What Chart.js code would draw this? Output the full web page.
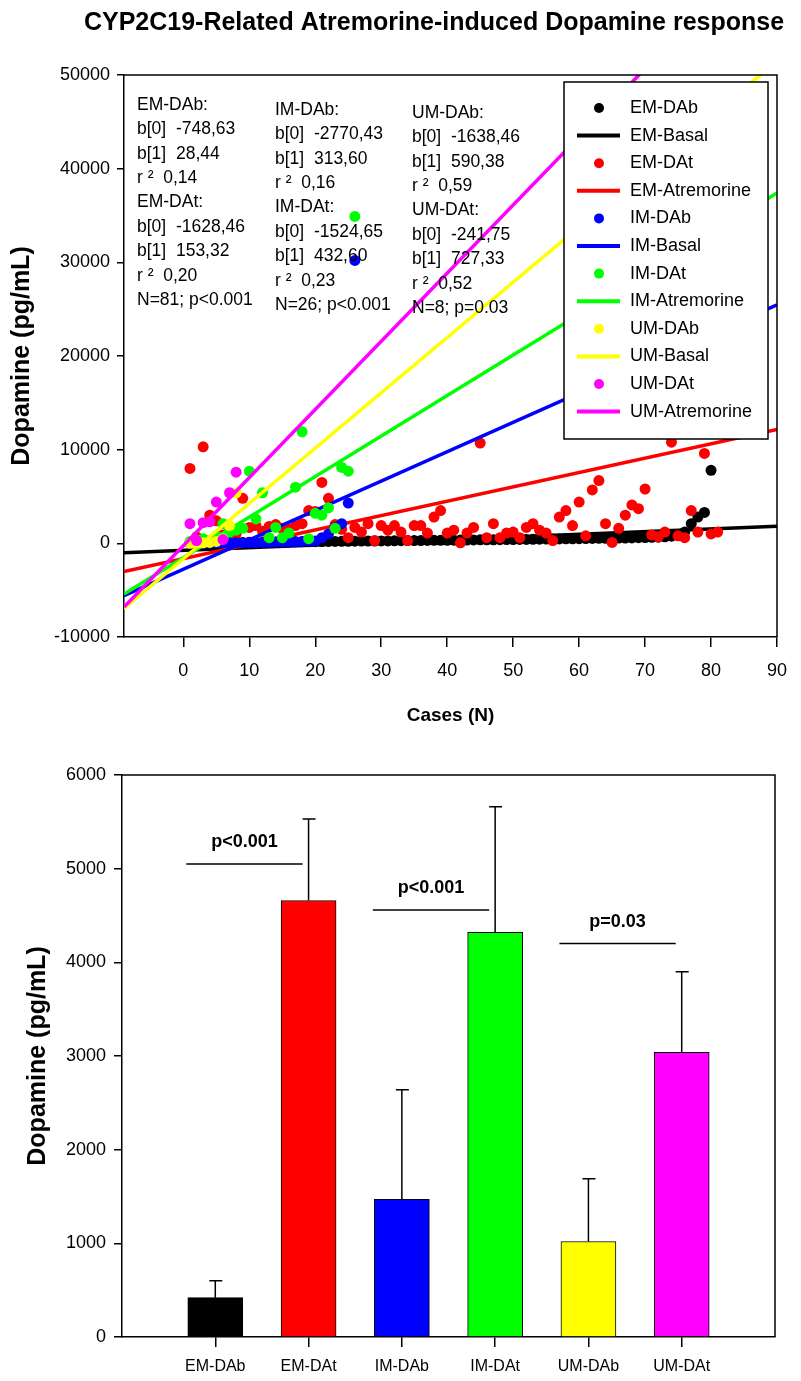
<!DOCTYPE html>
<html>
<head>
<meta charset="utf-8">
<title>CYP2C19-Related Atremorine-induced Dopamine response</title>
<script src="https://cdn.jsdelivr.net/npm/chart.js@4.4.1/dist/chart.umd.min.js"></script>
<style>
  body { margin: 0; background: #fff; }
  #wrap { position: relative; width: 801px; height: 1381px; }
  canvas { position: absolute; left: 0; }
</style>
</head>
<body>
<div id="wrap">
  <canvas id="scatter-chart" width="801" height="745" style="top:0"></canvas>
  <canvas id="bar-chart" width="801" height="636" style="top:745px"></canvas>
</div>
<script>
const FONT = "'Liberation Sans', Arial, sans-serif";

// case N is the position in the array (1, 2, 3 ...)
const emDAb = [
  20, 30, 40, 40, 60, 70, 80, 90, 100, 110,
  110, 120, 130, 130, 140, 150, 160, 170, 170, 180,
  190, 200, 200, 210, 220, 230, 240, 240, 250, 260,
  260, 270, 280, 290, 290, 300, 310, 320, 320, 330,
  340, 350, 350, 360, 370, 380, 380, 390, 400, 410,
  420, 420, 430, 440, 450, 460, 470, 480, 490, 500,
  510, 520, 530, 540, 550, 560, 570, 580, 600, 620,
  640, 660, 700, 760, 900, 1200, 2100, 2800, 3300, 7800,
  12500
];
const emDAt = [
  8000, 700, 10300, 3000, 2400, 900, 1300, 1000, 4800, 1700,
  1900, 1300, 1800, 2000, 1600, 1500, 1900, 2100, 3500, 3400,
  6500, 4800, 2000, 1500, 600, 1700, 1200, 2100, 300, 1900,
  1400, 1900, 1200, 300, 1900, 1900, 1100, 2800, 3500, 1100,
  1400, 50, 1100, 1700, 10700, 600, 2100, 600, 1100, 1200,
  600, 1700, 2100, 1400, 1100, 300, 2800, 3500, 1900, 4400,
  800, 5700, 6700, 2100, 100, 1600, 3000, 4100, 3700, 5800,
  900, 700, 1200, 10800, 800, 600, 3500, 1200, 9600, 1000,
  1200
];
const imDAb = [
  0, 0, 10, 20, 30, 40, 50, 60, 70, 80,
  90, 100, 110, 120, 140, 160, 180, 200, 230, 260,
  600, 1000, 1700, 2100, 4300, 30200
];
const imDAt = [
  200, 300, 500, 300, 800, 2100, 1200, 1400, 1600, 7700,
  2600, 5400, 600, 1700, 600, 1100, 6000, 11900, 500, 3200,
  3000, 3800, 1600, 8100, 7700, 34900
];
const umDAb = [0, 0, 50, 100, 200, 500, 1900, 5400];
const umDAt = [2100, 300, 2200, 2300, 4400, 400, 5400, 7600];

// regression lines, read at the two ends of the x axis
const fitX = [-9, 90];
const emBasal = [-1004, 1811];
const emAtremorine = [-3008, 12170];
const imBasal = [-5593, 25454];
const imAtremorine = [-5418, 37409];
const umBasal = [-6952, 51496];
const umAtremorine = [-6788, 65218];

const fitNotes = [
  ['EM-DAb:', 'b[0]  -748,63', 'b[1]  28,44', 'r \u00b2  0,14',
   'EM-DAt:', 'b[0]  -1628,46', 'b[1]  153,32', 'r \u00b2  0,20', 'N=81; p<0.001'],
  ['IM-DAb:', 'b[0]  -2770,43', 'b[1]  313,60', 'r \u00b2  0,16',
   'IM-DAt:', 'b[0]  -1524,65', 'b[1]  432,60', 'r \u00b2  0,23', 'N=26; p<0.001'],
  ['UM-DAb:', 'b[0]  -1638,46', 'b[1]  590,38', 'r \u00b2  0,59',
   'UM-DAt:', 'b[0]  -241,75', 'b[1]  727,33', 'r \u00b2  0,52', 'N=8; p=0.03']
];

// bar chart
const barLabels = ['EM-DAb', 'EM-DAt', 'IM-DAb', 'IM-DAt', 'UM-DAb', 'UM-DAt'];
const barMeans = [420, 4660, 1470, 4320, 1020, 3040];
const barErrors = [180, 870, 1170, 1340, 670, 860];
const barColors = ['#000000', '#ff0000', '#0000ff', '#00ff00', '#ffff00', '#ff00ff'];
const sigLevels = [5050, 4560, 4200];
const sigTexts = ['p<0.001', 'p<0.001', 'p=0.03'];

Chart.defaults.font.family = FONT;
Chart.defaults.color = '#000';

function text(ctx, str, x, y, font, align) {
  ctx.save();
  ctx.font = font;
  ctx.fillStyle = '#000';
  ctx.textAlign = align || 'left';
  ctx.textBaseline = 'middle';
  ctx.fillText(str, x, y);
  ctx.restore();
}

function dots(label, color, values) {
  return {
    label: label,
    data: values.map((v, i) => ({ x: i + 1, y: v })),
    backgroundColor: color,
    borderColor: color,
    pointRadius: 5.5,
    pointHoverRadius: 5.5,
    pointBorderWidth: 0,
    showLine: false
  };
}

function fit(label, color, ys) {
  return {
    label: label,
    data: fitX.map((x, i) => ({ x: x, y: ys[i] })),
    borderColor: color,
    backgroundColor: color,
    borderWidth: 3.5,
    pointRadius: 0,
    showLine: true
  };
}

const scatterSets = [
  dots('EM-DAb', '#000000', emDAb),
  fit('EM-Basal', '#000000', emBasal),
  dots('EM-DAt', '#ff0000', emDAt),
  fit('EM-Atremorine', '#ff0000', emAtremorine),
  dots('IM-DAb', '#0000ff', imDAb),
  fit('IM-Basal', '#0000ff', imBasal),
  dots('IM-DAt', '#00ff00', imDAt),
  fit('IM-Atremorine', '#00ff00', imAtremorine),
  dots('UM-DAb', '#ffff00', umDAb),
  fit('UM-Basal', '#ffff00', umBasal),
  dots('UM-DAt', '#ff00ff', umDAt),
  fit('UM-Atremorine', '#ff00ff', umAtremorine)
];
// later entries sit on top, like the original plot
scatterSets.forEach((d, i) => { d.order = scatterSets.length - i; });

function frame(ctx, a) {
  ctx.save();
  ctx.strokeStyle = '#000';
  ctx.lineWidth = 1.5;
  ctx.beginPath();
  ctx.moveTo(a.left, a.top);
  ctx.lineTo(a.right, a.top);
  ctx.lineTo(a.right, a.bottom);
  ctx.stroke();
  ctx.restore();
}

function yTitle(ctx, x, y) {
  ctx.save();
  ctx.translate(x, y);
  ctx.rotate(-Math.PI / 2);
  text(ctx, 'Dopamine (pg/mL)', 0, 0, 'bold 25px ' + FONT, 'center');
  ctx.restore();
}

const scatterExtras = {
  id: 'scatterExtras',
  afterDraw(chart) {
    const ctx = chart.ctx;
    const a = chart.chartArea;
    frame(ctx, a);

    text(ctx, 'CYP2C19-Related Atremorine-induced Dopamine response', 434, 23, 'bold 25px ' + FONT, 'center');
    text(ctx, 'Cases (N)', (a.left + a.right) / 2, 716, 'bold 19px ' + FONT, 'center');
    yTitle(ctx, 22, (a.top + a.bottom) / 2);

    // regression coefficients
    const colX = [13, 151, 288];
    const colY = [30, 35, 38];
    fitNotes.forEach((lines, c) => {
      lines.forEach((s, r) => {
        text(ctx, s, a.left + colX[c], a.top + colY[c] + r * 24.4, '17.5px ' + FONT);
      });
    });

    // legend box over the plot
    const lx = a.right - 213, ly = a.top + 7, lw = 204, lh = 357;
    ctx.save();
    ctx.fillStyle = '#fff';
    ctx.fillRect(lx, ly, lw, lh);
    ctx.strokeStyle = '#000';
    ctx.lineWidth = 1.5;
    ctx.strokeRect(lx, ly, lw, lh);
    chart.data.datasets.forEach((d, i) => {
      const y = ly + 26 + i * 27.6;
      if (d.showLine) {
        ctx.strokeStyle = d.borderColor;
        ctx.lineWidth = 4;
        ctx.beginPath();
        ctx.moveTo(lx + 13, y);
        ctx.lineTo(lx + 56, y);
        ctx.stroke();
      } else {
        ctx.fillStyle = d.backgroundColor;
        ctx.beginPath();
        ctx.arc(lx + 35, y, 5, 0, Math.PI * 2);
        ctx.fill();
      }
      text(ctx, d.label, lx + 66, y, '18px ' + FONT);
    });
    ctx.restore();
  }
};

new Chart(document.getElementById('scatter-chart'), {
  type: 'scatter',
  data: { datasets: scatterSets },
  options: {
    responsive: false,
    animation: false,
    layout: { padding: { top: 75, right: 24, left: 0, bottom: 0 } },
    plugins: { legend: { display: false }, tooltip: { enabled: false } },
    scales: {
      x: {
        type: 'linear',
        min: -9,
        max: 90,
        ticks: { stepSize: 10, font: { size: 18 }, padding: 13, callback: v => String(v) },
        grid: { drawOnChartArea: false, tickLength: 10, color: '#000', lineWidth: 1.5 },
        border: { color: '#000', width: 1.5 },
        afterBuildTicks: s => { s.ticks = s.ticks.filter(t => t.value % 10 === 0); },
        afterFit: s => { s.height = 108; }
      },
      y: {
        min: -10000,
        max: 50000,
        ticks: { stepSize: 10000, font: { size: 18 }, padding: 7, callback: v => String(v) },
        grid: { drawOnChartArea: false, tickLength: 7, color: '#000', lineWidth: 1.5 },
        border: { color: '#000', width: 1.5 },
        afterFit: s => { s.width = 124; }
      }
    }
  },
  plugins: [scatterExtras]
});

const barExtras = {
  id: 'barExtras',
  afterDatasetsDraw(chart) {
    const ctx = chart.ctx;
    const a = chart.chartArea;
    const y = chart.scales.y;
    const meta = chart.getDatasetMeta(0);
    ctx.save();
    ctx.strokeStyle = '#000';
    ctx.lineWidth = 1.5;
    // upper error bars
    barMeans.forEach((m, i) => {
      const bx = meta.data[i + 1].x;
      const top = y.getPixelForValue(m + barErrors[i]);
      ctx.beginPath();
      ctx.moveTo(bx, y.getPixelForValue(m));
      ctx.lineTo(bx, top);
      ctx.moveTo(bx - 6, top);
      ctx.lineTo(bx + 7, top);
      ctx.stroke();
    });
    // significance lines
    sigLevels.forEach((lev, k) => {
      const x1 = meta.data[2 * k + 1].x - 29;
      const x2 = meta.data[2 * k + 2].x - 6;
      const yy = y.getPixelForValue(lev);
      ctx.beginPath();
      ctx.moveTo(x1, yy);
      ctx.lineTo(x2, yy);
      ctx.stroke();
      text(ctx, sigTexts[k], (x1 + x2) / 2, yy - 22, 'bold 18px ' + FONT, 'center');
    });
    ctx.restore();
    frame(ctx, a);
    yTitle(ctx, 38, (a.top + a.bottom) / 2);
  }
};

new Chart(document.getElementById('bar-chart'), {
  type: 'bar',
  data: {
    labels: ['', ...barLabels, ''],
    datasets: [{
      label: 'Dopamine',
      data: [null, ...barMeans, null],
      backgroundColor: ['#fff', ...barColors, '#fff'],
      borderColor: '#000',
      borderWidth: 1,
      barThickness: 55
    }]
  },
  options: {
    responsive: false,
    animation: false,
    layout: { padding: { top: 30, right: 26, left: 0, bottom: 0 } },
    plugins: { legend: { display: false }, tooltip: { enabled: false } },
    scales: {
      x: {
        offset: false,
        ticks: { font: { size: 16 }, padding: 10, autoSkip: false, maxRotation: 0 },
        grid: {
          offset: false,
          drawOnChartArea: false,
          tickLength: 10,
          lineWidth: 1.5,
          tickColor: c => (c.tick && c.tick.label ? '#000' : 'rgba(0,0,0,0)')
        },
        border: { color: '#000', width: 1.5 },
        afterFit: s => { s.height = 44; }
      },
      y: {
        min: 0,
        max: 6000,
        ticks: { stepSize: 1000, font: { size: 18 }, padding: 8, callback: v => String(v) },
        grid: { drawOnChartArea: false, tickLength: 8, color: '#000', lineWidth: 1.5 },
        border: { color: '#000', width: 1.5 },
        afterFit: s => { s.width = 122; }
      }
    }
  },
  plugins: [barExtras]
});
</script>
</body>
</html>
